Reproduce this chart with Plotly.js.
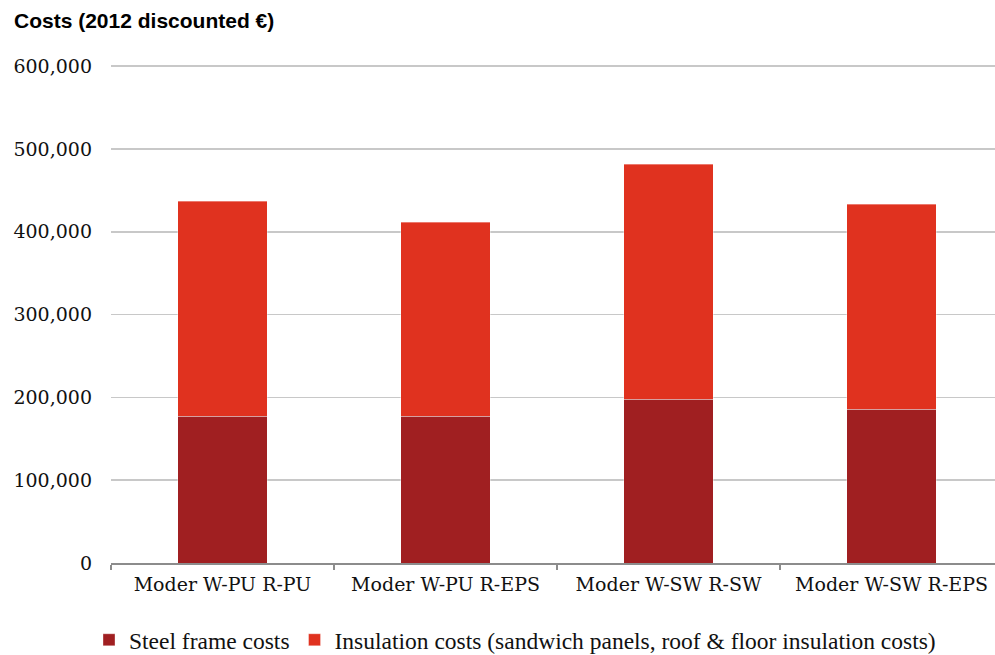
<!DOCTYPE html>
<html>
<head>
<meta charset="utf-8">
<script src="https://cdn.plot.ly/plotly-3.0.1.min.js"></script>
<style>html,body{margin:0;padding:0;background:#fff;}#chart{width:995px;height:655px;}</style>
</head>
<body>
<div id="chart"></div>
<script>
const categories = ["Moder W-PU R-PU", "Moder W-PU R-EPS", "Moder W-SW R-SW", "Moder W-SW R-EPS"];
const steelFrame = [177400, 177400, 197900, 185900];
const insulation = [259700, 234300, 283900, 247500];
const yTickVals = [0, 100000, 200000, 300000, 400000, 500000, 600000];
const yTickText = ["0", "100,000", "200,000", "300,000", "400,000", "500,000", "600,000"];

const serif = "DejaVu Serif, Liberation Serif, serif";
const legendSerif = "Liberation Serif, Times New Roman, serif";

const traces = [
  {
    type: "bar", name: "Steel frame costs", x: categories, y: steelFrame,
    marker: {color: "#A01F21", line: {color: "rgba(255,255,255,0.35)", width: 1}},
    width: 0.4
  },
  {
    type: "bar", name: "Insulation costs (sandwich panels, roof & floor insulation costs)", x: categories, y: insulation,
    marker: {color: "#E0321F", line: {color: "rgba(255,255,255,0.35)", width: 1}},
    width: 0.4
  }
];

const layout = {
  width: 995, height: 655,
  barmode: "stack",
  paper_bgcolor: "#fff", plot_bgcolor: "#fff",
  margin: {l: 111, r: 0, t: 65, b: 92},
  title: {
    text: "<b>Costs (2012 discounted €)</b>",
    font: {family: "Liberation Sans, Arial, sans-serif", size: 21, color: "#000"},
    xref: "container", yref: "container",
    x: 14/995, xanchor: "left", y: 1 - 21/655, yanchor: "middle"
  },
  xaxis: {
    type: "category",
    range: [-0.5, 3.464],
    tickson: "boundaries",
    ticks: "outside", ticklen: 5, tickcolor: "#8c8c8c", tickwidth: 1.5,
    showline: true, linecolor: "#8c8c8c", linewidth: 1.5,
    showgrid: false, zeroline: false,
    automargin: false,
    tickfont: {family: serif, size: 19, color: "#111"},
    ticklabelstandoff: 4
  },
  yaxis: {
    range: [0, 601500],
    tickvals: yTickVals, ticktext: yTickText,
    showgrid: true, gridcolor: "#c8c8c8", gridwidth: 1.5,
    zeroline: false, showline: false,
    ticks: "",
    automargin: false,
    tickfont: {family: serif, size: 19, color: "#111"},
    ticklabelstandoff: 18
  },
  legend: {
    orientation: "h",
    xref: "container", yref: "container",
    x: 515/995, xanchor: "center",
    y: 1 - 640/655, yanchor: "middle",
    font: {family: legendSerif, size: 23.5, color: "#111"},
    traceorder: "normal",
    itemwidth: 30
  },
  showlegend: true
};

Plotly.newPlot("chart", traces, layout, {displayModeBar: false, staticPlot: true});
</script>
</body>
</html>
